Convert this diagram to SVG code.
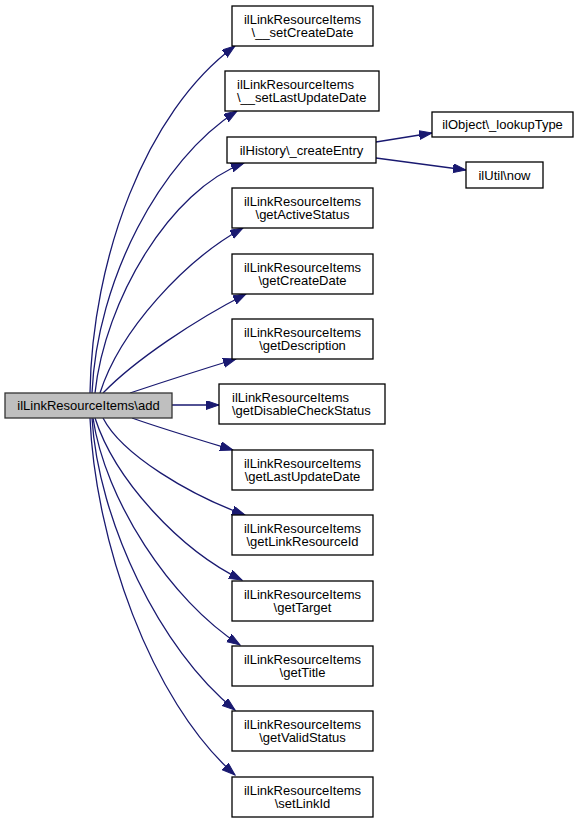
<svg xmlns="http://www.w3.org/2000/svg" width="581" height="823" viewBox="0 0 581 823">
<defs>
<marker id="ah" markerWidth="14" markerHeight="10" refX="13" refY="4.5" orient="auto" markerUnits="userSpaceOnUse">
<path d="M0,0 L13,4.5 L0,9 Z" fill="#191970" stroke="#191970" stroke-width="1"/>
</marker>
<style>
.n rect{fill:#ffffff;stroke:#000000;stroke-width:1.3}
.root rect{fill:#bfbfbf;stroke:#333333;stroke-width:1.3}
text{font-family:"Liberation Sans",Arial,Helvetica,sans-serif;font-size:13px;fill:#000000}
.c{text-anchor:middle}
.s{text-anchor:start}
.e path{fill:none;stroke:#191970;stroke-width:1.3;marker-end:url(#ah)}
</style>
</defs>
<rect width="581" height="823" fill="#ffffff"/>
<g class="e" id="edges">
<path d="M90,393 C92,260 145,112 235,46"/>
<path d="M92,393 C97,280 160,160 237,111"/>
<path d="M95,393 C105,300 170,190 244,163"/>
<path d="M100,393 C120,330 185,260 243,228"/>
<path d="M103,393 C135,360 195,320 246,294"/>
<path d="M130,393 C160,383 200,370 236,359"/>
<path d="M172,405 L219,405"/>
<path d="M132,418 C160,428 200,440 233,450"/>
<path d="M103,418 C122,455 190,495 245,515"/>
<path d="M95,418 C115,480 180,550 242,580"/>
<path d="M93,418 C105,500 170,600 240,645"/>
<path d="M92,418 C98,520 160,650 235,710"/>
<path d="M90,418 C95,540 150,700 235,775"/>
<path d="M376,142 L432,133"/>
<path d="M376,158 L466,170"/>
</g>
<g id="root" class="root"><rect x="5" y="393" width="167" height="25"/><text class="c" x="88.5" y="410">ilLinkResourceItems\add</text></g>
<g id="setCreateDate" class="n"><rect x="232" y="6" width="141" height="40"/><text class="c" x="302.5" y="23.5">ilLinkResourceItems</text><text class="c" x="302.5" y="37">\__setCreateDate</text></g>
<g id="setLastUpdateDate" class="n"><rect x="225" y="71" width="154" height="40"/><text class="s" x="237" y="88.5">ilLinkResourceItems</text><text class="s" x="237" y="102">\__setLastUpdateDate</text></g>
<g id="createEntry" class="n"><rect x="227" y="137" width="149" height="26"/><text class="c" x="301.5" y="154.5">ilHistory\_createEntry</text></g>
<g id="lookupType" class="n"><rect x="432" y="112" width="141" height="25"/><text class="c" x="502.5" y="129">ilObject\_lookupType</text></g>
<g id="now" class="n"><rect x="466" y="162" width="77" height="26"/><text class="c" x="504.5" y="179.5">ilUtil\now</text></g>
<g id="getActiveStatus" class="n"><rect x="232" y="188" width="141" height="40"/><text class="c" x="302.5" y="205.5">ilLinkResourceItems</text><text class="c" x="302.5" y="219">\getActiveStatus</text></g>
<g id="getCreateDate" class="n"><rect x="232" y="254" width="141" height="40"/><text class="c" x="302.5" y="271.5">ilLinkResourceItems</text><text class="c" x="302.5" y="285">\getCreateDate</text></g>
<g id="getDescription" class="n"><rect x="232" y="319" width="141" height="40"/><text class="c" x="302.5" y="336.5">ilLinkResourceItems</text><text class="c" x="302.5" y="350">\getDescription</text></g>
<g id="getDisableCheckStatus" class="n"><rect x="219" y="384" width="166" height="40"/><text class="s" x="232" y="401.5">ilLinkResourceItems</text><text class="s" x="232" y="415">\getDisableCheckStatus</text></g>
<g id="getLastUpdateDate" class="n"><rect x="232" y="450" width="141" height="40"/><text class="c" x="302.5" y="467.5">ilLinkResourceItems</text><text class="c" x="302.5" y="481">\getLastUpdateDate</text></g>
<g id="getLinkResourceId" class="n"><rect x="232" y="515" width="141" height="40"/><text class="c" x="302.5" y="532.5">ilLinkResourceItems</text><text class="c" x="302.5" y="546">\getLinkResourceId</text></g>
<g id="getTarget" class="n"><rect x="232" y="581" width="141" height="40"/><text class="c" x="302.5" y="598.5">ilLinkResourceItems</text><text class="c" x="302.5" y="612">\getTarget</text></g>
<g id="getTitle" class="n"><rect x="232" y="646" width="141" height="40"/><text class="c" x="302.5" y="663.5">ilLinkResourceItems</text><text class="c" x="302.5" y="677">\getTitle</text></g>
<g id="getValidStatus" class="n"><rect x="232" y="711" width="141" height="40"/><text class="c" x="302.5" y="728.5">ilLinkResourceItems</text><text class="c" x="302.5" y="742">\getValidStatus</text></g>
<g id="setLinkId" class="n"><rect x="232" y="777" width="141" height="40"/><text class="c" x="302.5" y="794.5">ilLinkResourceItems</text><text class="c" x="302.5" y="808">\setLinkId</text></g>
</svg>
